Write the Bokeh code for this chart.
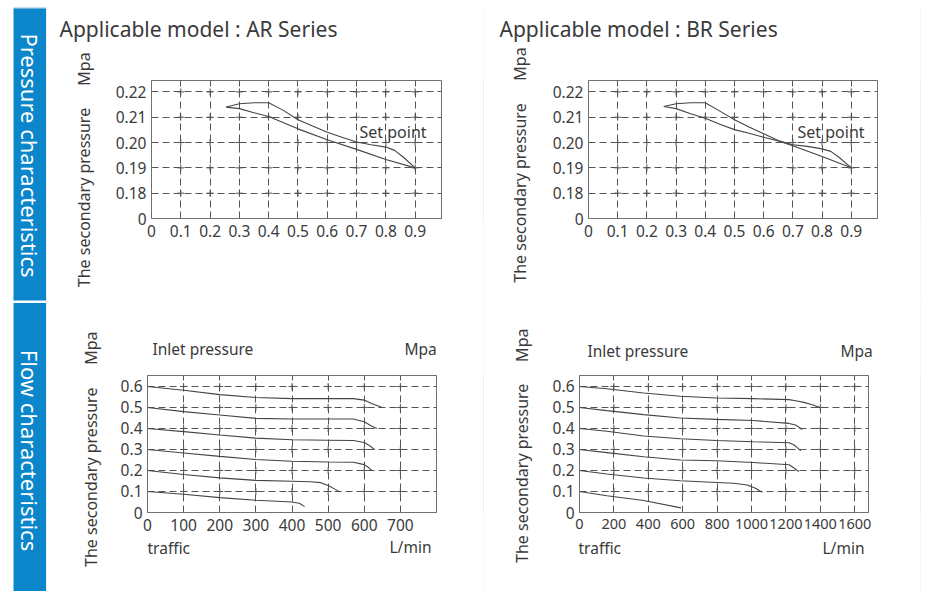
import numpy as np
from bokeh.plotting import figure
from bokeh.models import Range1d, FixedTicker, Label, Spacer
from bokeh.layouts import row, column
from bokeh.embed import file_html
from bokeh.resources import INLINE

# ---------------- data ----------------
# Pressure characteristics: inlet pressure (MPa) vs secondary pressure (MPa)
pc_x_ticks = [0, 0.1, 0.2, 0.3, 0.4, 0.5, 0.6, 0.7, 0.8, 0.9]
pc_y_ticks = [0, 0.18, 0.19, 0.20, 0.21, 0.22]
pc_y_labels = ["0", "0.18", "0.19", "0.20", "0.21", "0.22"]

ar_upper_x = [0.255, 0.30, 0.35, 0.40, 0.45, 0.50, 0.55, 0.60, 0.65, 0.70, 0.75, 0.80, 0.83, 0.86, 0.90]
ar_upper_y = [0.2140, 0.2153, 0.2157, 0.2157, 0.2127, 0.2090, 0.2065, 0.2041, 0.2021, 0.2002, 0.1991, 0.1982, 0.1969, 0.1942, 0.1900]
ar_lower_x = [0.255, 0.30, 0.35, 0.40, 0.50, 0.60, 0.70, 0.80, 0.90]
ar_lower_y = [0.2140, 0.2134, 0.2118, 0.2103, 0.2054, 0.2011, 0.1973, 0.1933, 0.1900]

br_upper_x = [0.258, 0.30, 0.35, 0.40, 0.45, 0.50, 0.55, 0.60, 0.65, 0.70, 0.75, 0.80, 0.83, 0.86, 0.90]
br_upper_y = [0.2142, 0.2153, 0.2157, 0.2157, 0.2124, 0.2090, 0.2061, 0.2035, 0.2008, 0.1991, 0.1985, 0.1975, 0.1965, 0.1940, 0.1900]
br_lower_x = [0.258, 0.30, 0.35, 0.40, 0.45, 0.50, 0.55, 0.60, 0.65, 0.70, 0.80, 0.90]
br_lower_y = [0.2142, 0.2134, 0.2114, 0.2096, 0.2072, 0.2051, 0.2037, 0.2021, 0.2006, 0.1987, 0.1945, 0.1900]

# Flow characteristics: flow (L/min) vs secondary pressure (MPa), one curve per inlet pressure
fc_y_ticks = [0, 0.1, 0.2, 0.3, 0.4, 0.5, 0.6]
ar_x_ticks = [0, 100, 200, 300, 400, 500, 600, 700]
br_x_ticks = [0, 200, 400, 600, 800, 1000, 1200, 1400, 1600]

ar_q_06 = [0, 100, 200, 300, 400, 500, 570, 600, 620, 650]
ar_p_06 = [0.600, 0.582, 0.561, 0.547, 0.542, 0.542, 0.542, 0.535, 0.519, 0.500]
ar_q_05 = [0, 100, 200, 300, 400, 500, 570, 600, 620, 635]
ar_p_05 = [0.500, 0.480, 0.464, 0.448, 0.445, 0.445, 0.445, 0.432, 0.412, 0.400]
ar_q_04 = [0, 100, 200, 300, 400, 500, 570, 600, 615, 628]
ar_p_04 = [0.400, 0.385, 0.369, 0.354, 0.346, 0.344, 0.343, 0.333, 0.318, 0.300]
ar_q_03 = [0, 100, 200, 300, 400, 500, 570, 600, 612, 621]
ar_p_03 = [0.300, 0.283, 0.267, 0.252, 0.244, 0.240, 0.239, 0.228, 0.214, 0.200]
ar_q_02 = [0, 100, 200, 300, 400, 450, 480, 500, 520, 534]
ar_p_02 = [0.200, 0.181, 0.165, 0.153, 0.149, 0.146, 0.142, 0.128, 0.110, 0.097]
ar_q_01 = [0, 100, 200, 300, 400, 420, 435]
ar_p_01 = [0.100, 0.087, 0.071, 0.058, 0.050, 0.044, 0.028]

br_q_06 = [0, 159, 373, 586, 796, 1010, 1218, 1256, 1305, 1353, 1398]
br_p_06 = [0.600, 0.589, 0.569, 0.553, 0.545, 0.542, 0.537, 0.532, 0.524, 0.513, 0.500]
br_q_05 = [0, 159, 373, 586, 796, 1010, 1218, 1256, 1276, 1295]
br_p_05 = [0.500, 0.485, 0.466, 0.450, 0.443, 0.438, 0.424, 0.416, 0.406, 0.395]
br_q_04 = [0, 159, 373, 586, 796, 1010, 1218, 1247, 1266, 1286]
br_p_04 = [0.400, 0.387, 0.364, 0.351, 0.343, 0.337, 0.332, 0.321, 0.309, 0.293]
br_q_03 = [0, 159, 373, 586, 796, 1010, 1218, 1243, 1262, 1276]
br_p_03 = [0.300, 0.285, 0.265, 0.250, 0.246, 0.238, 0.227, 0.214, 0.202, 0.195]
br_q_02 = [0, 159, 373, 586, 796, 897, 975, 1023, 1062]
br_p_02 = [0.200, 0.183, 0.164, 0.151, 0.143, 0.139, 0.131, 0.115, 0.096]
br_q_01 = [0, 159, 373, 590]
br_p_01 = [0.100, 0.080, 0.057, 0.022]

# ---------------- styling ----------------
FONT = "Noto Sans"
INK = "#3a3a3a"
FRAME = "#707070"
GRID = "#555555"
CURVE = "#444444"
BLUE = "#0b86cb"
DIVIDER = "#dddddd"
BASE_SHIFT = 0.37   # em: visual correction for alphabetic baseline
ROT_SHIFT = 2.5     # px: visual correction for rotated labels


def pc_index(v):
    """Broken pressure axis: 0 | 0.18 .. 0.22 evenly spaced."""
    return np.interp(v, pc_y_ticks, list(range(len(pc_y_ticks))))


def make_panel(spec, xr, yr, xticks, yticks, y_overrides, xfont="15.5px"):
    ox, oy, w, h = spec["box"]
    fl, ft, fr, fb = spec["frame"]
    p = figure(width=w, height=h, x_range=Range1d(*xr), y_range=Range1d(*yr),
               toolbar_location=None, output_backend="svg",
               min_border_left=fl - ox, min_border_top=ft - oy,
               min_border_right=ox + w - fr, min_border_bottom=oy + h - fb,
               background_fill_color="white", border_fill_color="white")
    p.outline_line_color = FRAME
    p.outline_line_width = 1
    p.xaxis.ticker = FixedTicker(ticks=xticks)
    p.yaxis.ticker = FixedTicker(ticks=yticks)
    p.yaxis.major_label_overrides = y_overrides
    p.xaxis.major_label_overrides = {0: "0"}
    for ax in (p.xaxis, p.yaxis):
        ax.axis_line_color = FRAME
        ax.major_tick_line_color = None
        ax.minor_tick_line_color = None
        ax.major_tick_out = 0
        ax.major_tick_in = 0
        ax.major_label_text_font = FONT
        ax.major_label_text_color = INK
    p.xaxis.major_label_text_font_size = xfont
    p.yaxis.major_label_text_font_size = "15.5px"
    p.xaxis.major_label_standoff = 6
    p.yaxis.major_label_standoff = 5
    p.grid.grid_line_color = GRID
    p.grid.grid_line_dash = "7 4"
    p.grid.grid_line_width = 1
    # small crosses where the dashed grid lines meet
    cx = [x for x in xticks if x != 0 for y in yticks if y != 0]
    cy = [y for x in xticks if x != 0 for y in yticks if y != 0]
    p.scatter(cx, cy, marker="cross", size=7, line_color=GRID, line_width=1)
    p._spec = spec
    p._xr = xr
    p._yr = yr
    return p


def add_text(p, px, py, text, size, place="center", rotated=False):
    """Place a text at a reference-pixel position, converted to the panel's data coordinates."""
    fl, ft, fr, fb = p._spec["frame"]
    x0, x1 = p._xr
    y0, y1 = p._yr
    size_px = float(size.replace("px", ""))
    if rotated:
        px = px - ROT_SHIFT
        angle, align, baseline = np.pi / 2, "center", "middle"
    else:
        py = py - BASE_SHIFT * size_px
        angle, align, baseline = 0.0, "left", "alphabetic"
    x = x0 + (px - fl) / (fr - fl) * (x1 - x0)
    y = y0 + (fb - py) / (fb - ft) * (y1 - y0)
    lab = Label(x=x, y=y, text=text, text_font=FONT, text_font_size=size,
                text_color=INK, text_align=align, text_baseline=baseline, angle=angle)
    if place == "center":
        p.add_layout(lab)
    else:
        p.add_layout(lab, place)


# reference-pixel boxes: (left, top, width, height) and frame (l, t, r, b)
S1 = {"box": (47, 8, 436, 293), "frame": (151, 80, 441, 218)}
S2 = {"box": (484, 8, 436, 293), "frame": (588, 80, 877, 218)}
S3 = {"box": (47, 302, 436, 289), "frame": (147, 375, 436, 513)}
S4 = {"box": (484, 302, 436, 289), "frame": (579, 374, 868, 512)}

pc_over = {i: lab for i, lab in enumerate(pc_y_labels)}
pc_idx_ticks = list(range(len(pc_y_ticks)))
fc_over = {0: "0"}

# ---- pressure characteristics panels ----
p1 = make_panel(S1, (0, 0.99), (0, 5.45), pc_x_ticks, pc_idx_ticks, pc_over)
p1.line(ar_upper_x, pc_index(ar_upper_y), line_color=CURVE, line_width=1.1)
p1.line(ar_lower_x, pc_index(ar_lower_y), line_color=CURVE, line_width=1.1)

p2 = make_panel(S2, (0, 0.99), (0, 5.45), pc_x_ticks, pc_idx_ticks, pc_over)
p2.line(br_upper_x, pc_index(br_upper_y), line_color=CURVE, line_width=1.1)
p2.line(br_lower_x, pc_index(br_lower_y), line_color=CURVE, line_width=1.1)

add_text(p1, 59, 36, "Applicable model : AR Series", "21px", place="above")
add_text(p2, 499, 36, "Applicable model : BR Series", "21px", place="above")
add_text(p1, 359, 137.7, "Set point", "16px")
add_text(p2, 797, 137.7, "Set point", "16px")
add_text(p1, 85.5, 197, "The secondary pressure", "16px", place="left", rotated=True)
add_text(p1, 85.5, 68.5, "Mpa", "16px", place="left", rotated=True)
add_text(p2, 522, 192.5, "The secondary pressure", "16px", place="left", rotated=True)
add_text(p2, 522, 63.5, "Mpa", "16px", place="left", rotated=True)

# ---- flow characteristics panels ----
p3 = make_panel(S3, (0, 800), (0, 0.652), ar_x_ticks, fc_y_ticks, fc_over)
for q, pr in [(ar_q_06, ar_p_06), (ar_q_05, ar_p_05), (ar_q_04, ar_p_04),
              (ar_q_03, ar_p_03), (ar_q_02, ar_p_02), (ar_q_01, ar_p_01)]:
    p3.line(q, pr, line_color=CURVE, line_width=1.1)

p4 = make_panel(S4, (0, 1680), (0, 0.652), br_x_ticks, fc_y_ticks, fc_over, xfont="14.5px")
for q, pr in [(br_q_06, br_p_06), (br_q_05, br_p_05), (br_q_04, br_p_04),
              (br_q_03, br_p_03), (br_q_02, br_p_02), (br_q_01, br_p_01)]:
    p4.line(q, pr, line_color=CURVE, line_width=1.1)

add_text(p3, 152, 354, "Inlet pressure", "15.5px", place="above")
add_text(p3, 404, 354, "Mpa", "15.5px", place="above")
add_text(p3, 147, 554, "traffic", "15.5px", place="below")
add_text(p3, 389, 553, "L/min", "15.5px", place="right")
add_text(p3, 93, 477.5, "The secondary pressure", "16px", place="left", rotated=True)
add_text(p3, 93, 347.5, "Mpa", "16px", place="left", rotated=True)

add_text(p4, 587, 355, "Inlet pressure", "15.5px", place="above")
add_text(p4, 840, 355, "Mpa", "15.5px", place="above")
add_text(p4, 578, 553, "traffic", "15.5px", place="below")
add_text(p4, 822, 553, "L/min", "15.5px", place="right")
add_text(p4, 524, 472.5, "The secondary pressure", "16px", place="left", rotated=True)
add_text(p4, 524, 343.5, "Mpa", "16px", place="left", rotated=True)

# ---- left blue band with section names (reference pixel coordinates) ----
band = figure(width=47, height=584, x_range=Range1d(0, 47), y_range=Range1d(591, 7),
              toolbar_location=None, output_backend="svg", x_axis_type=None, y_axis_type=None,
              min_border=0, min_border_left=0, min_border_right=0, min_border_top=0, min_border_bottom=0,
              outline_line_color=None, background_fill_color="white", border_fill_color="white")
band.grid.visible = False
band.quad(left=[13, 13], right=[45.5, 45.5], top=[7, 302.5], bottom=[300, 591],
          fill_color=BLUE, line_color=None)
band.quad(left=[46], right=[47], top=[7], bottom=[591], fill_color=DIVIDER, line_color=None)
band.quad(left=[13], right=[47], top=[7], bottom=[8], fill_color=DIVIDER, line_color=None)
for txt, yc in [("Pressure characteristics", 155), ("Flow characteristics", 450)]:
    band.add_layout(Label(x=29, y=yc, text=txt, text_font=FONT, text_font_size="22px",
                          text_color="white", text_align="center", text_baseline="middle",
                          angle=-np.pi / 2))


def divider(w, h):
    d = figure(width=w, height=h, toolbar_location=None, output_backend="svg",
               x_axis_type=None, y_axis_type=None, min_border=0,
               min_border_left=0, min_border_right=0, min_border_top=0, min_border_bottom=0,
               outline_line_color=None, background_fill_color=DIVIDER, border_fill_color=DIVIDER)
    d.grid.visible = False
    return d


layout = column(
    Spacer(width=921, height=7),
    row(
        band,
        column(
            divider(874, 1),
            row(p1, divider(1, 293), p2, divider(1, 293)),
            divider(874, 1),
            row(p3, divider(1, 289), p4, divider(1, 289)),
        ),
    ),
)

open("out.html", "w").write(file_html(layout, INLINE))
